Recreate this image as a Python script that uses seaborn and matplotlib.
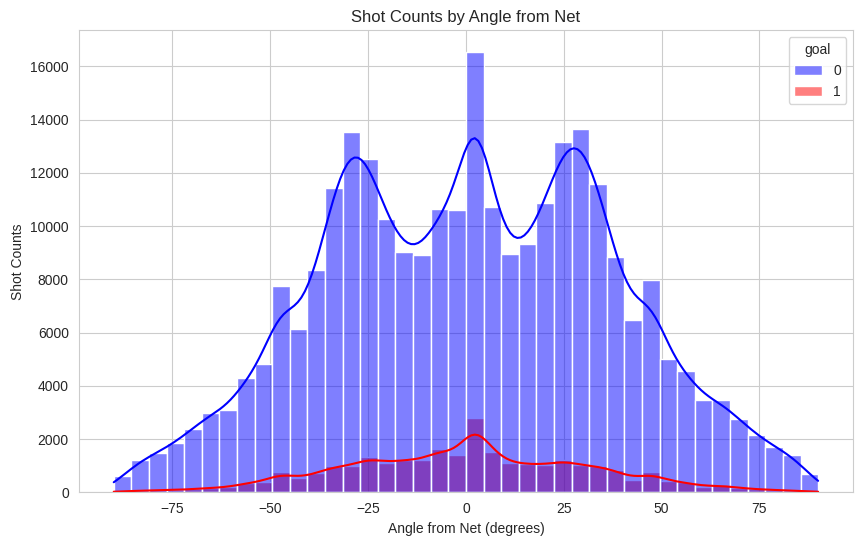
import numpy as np
import pandas as pd
import seaborn as sns
import matplotlib
matplotlib.use("Agg")
import matplotlib.pyplot as plt

# shot counts per 4.5 degree bin (-90 .. 90)
bin_edges = np.linspace(-90, 90, 41)
angle_bins = (bin_edges[:-1] + bin_edges[1:]) / 2
no_goal = [620, 1215, 1490, 1865, 2395, 2985, 3110, 4280, 4805, 7745,
           6150, 8350, 11430, 13540, 12530, 10270, 9030, 8915, 10650, 10610,
           16530, 10710, 8940, 9320, 10875, 13175, 13665, 11590, 8840, 6465,
           7970, 4995, 4540, 3485, 3450, 2735, 2155, 1715, 1415, 700]
goal = [40, 60, 70, 90, 120, 165, 190, 340, 405, 750,
        520, 720, 975, 990, 1320, 1100, 1230, 1205, 1620, 1395,
        2800, 1515, 1100, 1070, 1025, 1205, 1025, 975, 825, 480,
        750, 420, 370, 215, 265, 165, 115, 90, 60, 40]

df = pd.concat([
    pd.DataFrame({'angle': angle_bins, 'count': no_goal, 'goal': 0}),
    pd.DataFrame({'angle': angle_bins, 'count': goal, 'goal': 1}),
], ignore_index=True)

sns.set_style("whitegrid")
plt.rcParams['font.family'] = ['Liberation Sans', 'DejaVu Sans']

fig, ax = plt.subplots(figsize=(8.63, 5.45), dpi=100)
fig.subplots_adjust(left=0.091, right=0.9888, bottom=0.0967, top=0.9444)

sns.histplot(data=df, x='angle', hue='goal', weights='count',
             binwidth=4.5, binrange=(-90, 90), kde=True,
             palette={0: 'blue', 1: 'red'}, alpha=0.5, ax=ax,
             kde_kws={'bw_method': 0.105, 'cut': 2, 'clip': (-90, 90)})

ax.set_title('Shot Counts by Angle from Net')
ax.set_xlabel('Angle from Net (degrees)')
ax.set_ylabel('Shot Counts')

fig.savefig('out.png', dpi=100)
